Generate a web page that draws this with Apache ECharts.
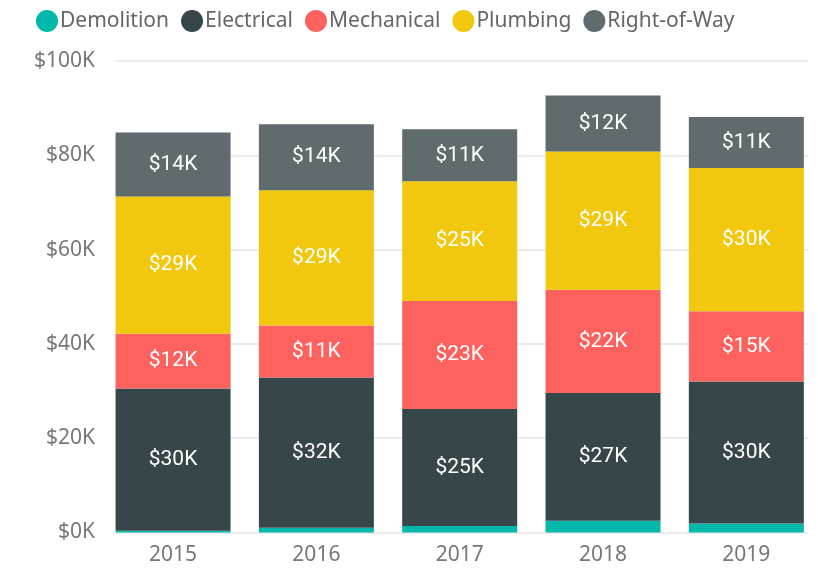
<!DOCTYPE html>
<html>
<head>
<meta charset="utf-8">
<script src="https://cdn.jsdelivr.net/npm/echarts@6/dist/echarts.min.js"></script>
<style>
  html, body { margin: 0; padding: 0; background: #fff; }
  #chart { width: 818px; height: 568px; }
</style>
</head>
<body>
<div id="chart"></div>
<script>
// values in $K
const years = ["2015", "2016", "2017", "2018", "2019"];
const demolition = [0.35, 1.0, 1.4, 2.5, 1.9];
const electrical = [30.2, 31.9, 24.8, 27.1, 30.1];
const mechanical = [11.6, 11.0, 22.9, 21.9, 14.9];
const plumbing = [29.1, 28.7, 25.4, 29.3, 30.4];
const rightOfWay = [13.6, 14.0, 11.0, 11.9, 10.8];
const yTicks = [0, 20, 40, 60, 80, 100];

const seriesDefs = [
  { name: "Demolition", data: demolition, color: "#01B8AA", label: false },
  { name: "Electrical", data: electrical, color: "#374649", label: true },
  { name: "Mechanical", data: mechanical, color: "#FD625E", label: true },
  { name: "Plumbing", data: plumbing, color: "#F2C80F", label: true },
  { name: "Right-of-Way", data: rightOfWay, color: "#5F6B6D", label: true },
];

const chart = echarts.init(document.getElementById("chart"));

const options = {
  animation: false,
  legend: {
    left: 31,
    top: 5,
    icon: "circle",
    itemWidth: 22,
    itemHeight: 22,
    itemGap: 12,
    textStyle: {
      fontFamily: "Noto Sans",
      fontSize: 21,
      color: "#666",
      padding: [0, 0, 0, -3],
    },
    data: seriesDefs.map((s) => s.name),
  },
  // grid 0: y labels + gridlines, grid 1: the bars (wider band so bars line up)
  grid: [
    { left: 116, right: 10, top: 61, bottom: 35.5 },
    { left: 101.4, right: -5.6, top: 61, bottom: 35.5 },
  ],
  xAxis: [
    {
      gridIndex: 0,
      type: "category",
      data: years,
      show: false,
    },
    {
      gridIndex: 1,
      type: "category",
      data: years,
      axisLine: { show: false },
      axisTick: { show: false },
      axisLabel: {
        color: "#777",
        fontFamily: "Noto Sans",
        fontSize: 21,
        margin: 12,
      },
    },
  ],
  yAxis: [
    {
      gridIndex: 0,
      type: "value",
      min: yTicks[0],
      max: yTicks[yTicks.length - 1],
      interval: 20,
      axisLine: { show: false },
      axisTick: { show: false },
      axisLabel: {
        color: "#777",
        fontFamily: "Noto Sans",
        fontSize: 21,
        margin: 21,
        formatter: (v) => "$" + v + "K",
      },
      splitLine: { show: true, lineStyle: { color: "#ebebeb", width: 2 } },
    },
    {
      gridIndex: 1,
      type: "value",
      min: yTicks[0],
      max: yTicks[yTicks.length - 1],
      interval: 20,
      show: false,
      splitLine: { show: false },
    },
  ],
  series: seriesDefs.map((s) => ({
    name: s.name,
    type: "bar",
    stack: "total",
    xAxisIndex: 1,
    yAxisIndex: 1,
    barWidth: 115,
    data: s.data,
    itemStyle: { color: s.color },
    label: {
      show: s.label,
      position: "inside",
      color: "#fff",
      fontFamily: "Roboto",
      fontSize: 21,
      formatter: (p) => "$" + Math.round(p.value) + "K",
    },
  })),
};

chart.setOption(options);
</script>
</body>
</html>
